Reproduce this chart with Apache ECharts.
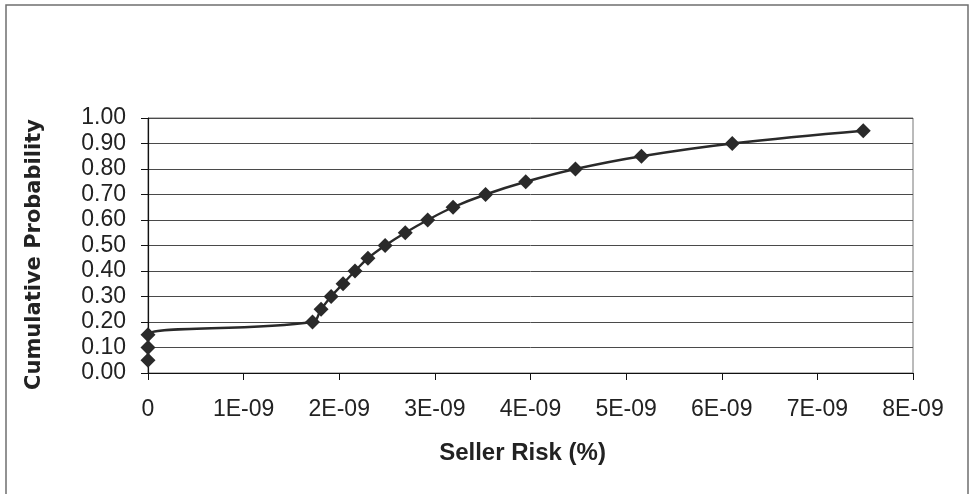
<!DOCTYPE html>
<html>
<head>
<meta charset="utf-8">
<title>Cumulative Probability of Seller Risk</title>
<script src="https://cdn.jsdelivr.net/npm/echarts@6/dist/echarts.min.js"></script>
<style>
  html, body { margin: 0; padding: 0; background: #fff; }
  #chart { width: 969px; height: 494px; }
</style>
</head>
<body>
<div id="chart"></div>
<script>
// Seller risk (%) values and their cumulative probabilities
const sellerRisk = [
  0, 0, 0,
  1.72e-9, 1.81e-9, 1.915e-9, 2.04e-9, 2.165e-9, 2.30e-9, 2.48e-9,
  2.69e-9, 2.925e-9, 3.19e-9, 3.53e-9, 3.95e-9, 4.47e-9, 5.16e-9,
  6.11e-9, 7.48e-9
];
const cumulativeProb = [
  0.05, 0.10, 0.15,
  0.20, 0.25, 0.30, 0.35, 0.40, 0.45, 0.50,
  0.55, 0.60, 0.65, 0.70, 0.75, 0.80, 0.85,
  0.90, 0.95
];
const xTickLabels = ['0', '1E-09', '2E-09', '3E-09', '4E-09', '5E-09', '6E-09', '7E-09', '8E-09'];

const points = sellerRisk.map((x, i) => [x, cumulativeProb[i]]);

const chart = echarts.init(document.getElementById('chart'), null, { renderer: 'canvas' });
chart.setOption({
  animation: false,
  backgroundColor: '#ffffff',
  graphic: [{
    type: 'rect',
    shape: { x: 6, y: 5, width: 962, height: 520 },
    style: { fill: 'none', stroke: '#6f6f6f', lineWidth: 1.5 },
    silent: true
  }],
  grid: {
    left: 148, right: 56, top: 118, bottom: 121,
    show: true, borderColor: '#777', borderWidth: 1, backgroundColor: 'transparent'
  },
  xAxis: {
    type: 'value',
    min: 0, max: 8e-9, interval: 1e-9,
    name: 'Seller Risk (%)',
    nameLocation: 'middle',
    nameGap: 68,
    nameTextStyle: {
      fontFamily: 'Liberation Sans, Arial, sans-serif', fontSize: 24, fontWeight: 'bold', color: '#222',
      padding: [0, 16, 0, 0]
    },
    axisLine: { show: true, onZero: false, lineStyle: { color: '#111', width: 1.2 } },
    axisTick: { show: true, inside: false, length: 7, lineStyle: { color: '#111' } },
    splitLine: { show: false },
    axisLabel: {
      margin: 25,
      fontFamily: 'Liberation Sans, Arial, sans-serif', fontSize: 23, color: '#222',
      formatter: v => xTickLabels[Math.round(v / 1e-9)]
    }
  },
  yAxis: {
    type: 'value',
    min: 0, max: 1, interval: 0.1,
    name: 'Cumulative Probability',
    nameLocation: 'middle',
    nameGap: 103,
    nameTextStyle: {
      fontFamily: 'DejaVu Sans, sans-serif', fontSize: 21, fontWeight: 'bold', color: '#222',
      padding: [0, 18, 0, 0]
    },
    axisLine: { show: true, lineStyle: { color: '#111', width: 1.2 } },
    axisTick: { show: true, inside: false, length: 7, lineStyle: { color: '#111' } },
    splitLine: { show: true, lineStyle: { color: '#4a4a4a', width: 1 } },
    axisLabel: {
      margin: 22,
      fontFamily: 'Liberation Sans, Arial, sans-serif', fontSize: 23, color: '#222',
      formatter: v => v.toFixed(2)
    }
  },
  series: [{
    type: 'line',
    data: points,
    smooth: 0.4,
    symbol: 'diamond',
    symbolSize: 15,
    showAllSymbol: true,
    lineStyle: { color: '#2a2a2a', width: 2.4 },
    itemStyle: { color: '#2a2a2a' }
  }]
});
</script>
</body>
</html>
